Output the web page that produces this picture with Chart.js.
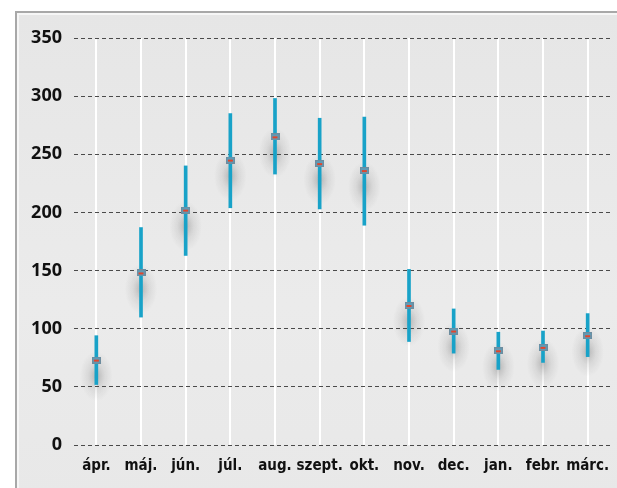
<!DOCTYPE html>
<html>
<head>
<meta charset="utf-8">
<script src="https://cdn.jsdelivr.net/npm/chart.js@4.4.1/dist/chart.umd.min.js"></script>
<style>
  html, body { margin: 0; padding: 0; background: #ffffff; }
  body { width: 617px; height: 488px; position: relative; overflow: hidden; }
  #frame {
    position: absolute; left: 15px; top: 11px; width: 610px; height: 490px;
    box-sizing: border-box;
    border: 2px solid #a8a8a8;
    box-shadow: inset 0 0 0 2px #f6f6f6;
    background: linear-gradient(180deg, #e6e6e6 0%, #ebebeb 60%, #e8e8e8 100%);
  }
  #wrap { position: absolute; left: 0; top: 0; width: 617px; height: 488px; }
</style>
</head>
<body>
<div id="frame"></div>
<div id="wrap"><canvas id="c" width="617" height="488"></canvas></div>
<script>
// Monthly mean with min/max range
const months = ['ápr.', 'máj.', 'jún.', 'júl.', 'aug.', 'szept.', 'okt.', 'nov.', 'dec.', 'jan.', 'febr.', 'márc.'];
const meanValues = [73, 148, 202, 245, 265, 242, 236, 120, 98, 81, 84, 94];
const lowValues  = [52, 110, 163, 204, 233, 203, 189, 89, 79, 65, 71, 76];
const highValues = [94, 187, 240, 285, 298, 281, 282, 151, 117, 97, 98, 113];
const yTicks = [0, 50, 100, 150, 200, 250, 300, 350];

const ranges = lowValues.map((lo, i) => [lo, highValues[i]]);

// marker: small slate box with a red bar across it
const marker = document.createElement('canvas');
marker.width = 9; marker.height = 7;
(function () {
  const g = marker.getContext('2d');
  g.fillStyle = '#6d8c9e';
  g.fillRect(0, 0, 9, 7);
  g.fillStyle = '#5f9bb6';
  g.fillRect(1, 1, 7, 5);
  g.fillStyle = '#e2452b';
  g.fillRect(2, 3, 5, 2);
})();

// soft shadow under each mean marker
const glowPlugin = {
  id: 'glow',
  beforeDatasetsDraw(chart) {
    const ctx = chart.ctx;
    const xs = chart.scales.x, ys = chart.scales.y;
    ctx.save();
    meanValues.forEach((v, i) => {
      const x = xs.getPixelForValue(i);
      const y = ys.getPixelForValue(v) + 16;
      ctx.save();
      ctx.translate(x, y);
      ctx.scale(0.65, 1);
      const r = 25;
      const grad = ctx.createRadialGradient(0, 0, 0, 0, 0, r);
      grad.addColorStop(0, 'rgba(60,60,60,0.30)');
      grad.addColorStop(0.5, 'rgba(80,80,80,0.11)');
      grad.addColorStop(1, 'rgba(100,100,100,0)');
      ctx.fillStyle = grad;
      ctx.beginPath();
      ctx.arc(0, 0, r, 0, Math.PI * 2);
      ctx.fill();
      ctx.restore();
    });
    ctx.restore();
  }
};

new Chart(document.getElementById('c'), {
  type: 'bar',
  data: {
    labels: months,
    datasets: [
      {
        type: 'bar',
        data: ranges,
        backgroundColor: '#18a2c8',
        borderWidth: 0,
        barThickness: 3,
        order: 2
      },
      {
        type: 'line',
        data: meanValues,
        showLine: false,
        pointStyle: marker,
        pointRadius: 5,
        order: 1
      }
    ]
  },
  plugins: [glowPlugin],
  options: {
    responsive: false,
    animation: false,
    devicePixelRatio: 1,
    layout: { padding: { left: 0, top: 38, right: 7, bottom: 0 } },
    plugins: { legend: { display: false }, tooltip: { enabled: false } },
    scales: {
      x: {
        offset: true,
        afterFit(scale) {
          scale.height = 43;
          scale.paddingLeft = 0;
          scale.paddingRight = 0;
        },
        grid: { offset: false, color: '#ffffff', lineWidth: 2, drawTicks: false },
        border: { display: false },
        ticks: {
          color: '#111111',
          padding: 12,
          maxRotation: 0,
          minRotation: 0,
          autoSkip: false,
          font: { family: "'Liberation Sans Narrow', 'DejaVu Sans Condensed', sans-serif", size: 15, weight: 'bold' }
        }
      },
      y: {
        min: 0, max: 350,
        afterFit(scale) { scale.width = 74; },
        afterBuildTicks(scale) { scale.ticks = yTicks.map(v => ({ value: v })); },
        grid: { color: '#4a4a4a', lineWidth: 1, drawTicks: false },
        border: { display: false, dash: [4, 3] },
        ticks: {
          color: '#111111',
          padding: 12,
          font: { family: "'Open Sans', sans-serif", size: 18, weight: 'bold' }
        }
      }
    }
  }
});
</script>
</body>
</html>
